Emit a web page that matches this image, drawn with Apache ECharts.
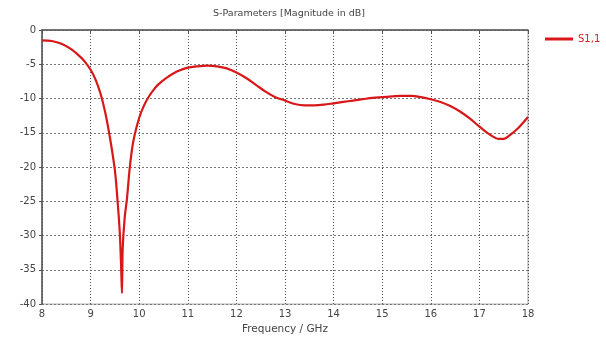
<!DOCTYPE html>
<html>
<head>
<meta charset="utf-8">
<script src="https://cdn.jsdelivr.net/npm/echarts@6/dist/echarts.min.js"></script>
<style>
  html, body { margin: 0; padding: 0; background: #fff; }
  #chart { width: 606px; height: 340px; }
</style>
</head>
<body>
<div id="chart"></div>
<script>
// S11 reflection coefficient, magnitude in dB, versus frequency in GHz
const freqGHz = [
  8.0, 8.2, 8.4, 8.6, 8.8, 8.9, 9.0, 9.1, 9.2, 9.3, 9.4, 9.5, 9.55, 9.6, 9.63, 9.645,
  9.66, 9.7, 9.75, 9.8, 9.85, 9.9, 10.0, 10.1, 10.2, 10.3, 10.4, 10.5, 10.6, 10.8, 11.0, 11.2, 11.4,
  11.6, 11.8, 12.0, 12.2, 12.4, 12.6, 12.8, 13.0, 13.2, 13.4, 13.6, 13.8, 14.0,
  14.2, 14.4, 14.6, 14.8, 15.0, 15.2, 15.4, 15.6, 15.8, 16.0, 16.2, 16.4, 16.6,
  16.8, 17.0, 17.2, 17.4, 17.5, 17.6, 17.8, 18.0
];
const s11dB = [
  -1.5, -1.6, -2.0, -2.8, -4.0, -4.8, -5.8, -7.2, -9.2, -12.0, -15.8, -20.5, -24.5, -29.5, -35.0, -38.4,
  -32.0, -27.5, -24.5, -20.5, -17.5, -15.5, -12.8, -11.0, -9.7, -8.7, -7.9, -7.3, -6.8, -6.0, -5.5, -5.3, -5.2,
  -5.3, -5.6, -6.2, -7.0, -8.0, -9.0, -9.8, -10.3, -10.8, -11.0, -11.0, -10.9, -10.7,
  -10.5, -10.3, -10.1, -9.9, -9.8, -9.7, -9.6, -9.6, -9.8, -10.1, -10.5, -11.1, -11.9,
  -12.9, -14.1, -15.2, -15.9, -15.9, -15.5, -14.3, -12.7
];
const seriesName = 'S1,1';
const xTicks = [8, 9, 10, 11, 12, 13, 14, 15, 16, 17, 18];
const yTicks = [0, -5, -10, -15, -20, -25, -30, -35, -40];

const font = 'Tahoma, "DejaVu Sans", Verdana, sans-serif';
const chart = echarts.init(document.getElementById('chart'), null, { renderer: 'canvas' });

chart.setOption({
  animation: false,
  title: {
    text: 'S-Parameters [Magnitude in dB]',
    left: 284,
    textAlign: 'center',
    top: 4,
    textStyle: { fontFamily: font, fontSize: 9.5, fontWeight: 'normal', color: '#444' }
  },
  legend: {
    data: [seriesName],
    left: 540,
    top: 29,
    icon: 'rect',
    itemWidth: 28,
    itemHeight: 3,
    itemGap: 4,
    textStyle: { fontFamily: font, fontSize: 10, color: '#d42020' }
  },
  grid: {
    left: 42, right: 78, top: 30, bottom: 32,
    show: true, borderColor: '#a0a0a0', borderWidth: 1, backgroundColor: '#fff'
  },
  xAxis: {
    type: 'value',
    min: xTicks[0],
    max: xTicks[xTicks.length - 1],
    interval: 1,
    name: 'Frequency / GHz',
    nameLocation: 'middle',
    nameGap: 19,
    nameTextStyle: { fontFamily: font, fontSize: 10.5, color: '#444' },
    axisLine: { lineStyle: { color: '#555', width: 1.5 } },
    axisTick: { show: true, length: 3, lineStyle: { color: '#555' } },
    axisLabel: { fontFamily: font, fontSize: 10, color: '#444', margin: 5 },
    splitLine: { show: true, lineStyle: { type: [1, 2], color: '#555', width: 1 } }
  },
  yAxis: {
    type: 'value',
    min: yTicks[yTicks.length - 1],
    max: yTicks[0],
    interval: 5,
    axisLine: { show: true, lineStyle: { color: '#555', width: 1.5 } },
    axisTick: { show: true, length: 3, lineStyle: { color: '#555' } },
    axisLabel: { fontFamily: font, fontSize: 10, color: '#444', margin: 6 },
    splitLine: { show: true, lineStyle: { type: [2, 2], color: '#777', width: 1 } }
  },
  series: [{
    name: seriesName,
    type: 'line',
    data: freqGHz.map((f, i) => [f, s11dB[i]]),
    smooth: 0.3,
    showSymbol: false,
    lineStyle: { color: '#d81818', width: 2.2 },
    itemStyle: { color: '#d81818' }
  }]
});
</script>
</body>
</html>
